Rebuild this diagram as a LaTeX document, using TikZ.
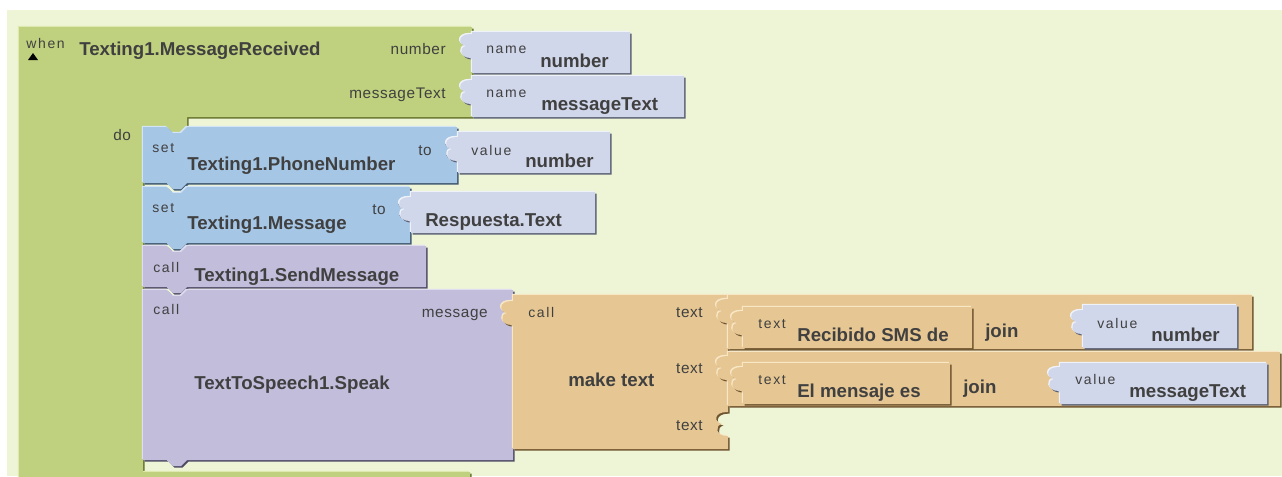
\documentclass[tikz,border=0pt]{standalone}
\usepackage{fontspec}
\setmainfont{Liberation Sans}
\newfontfamily\tagfont[LetterSpace=12]{Liberation Sans}
\newfontfamily\sockfont[LetterSpace=4]{Liberation Sans}

\definecolor{page}{HTML}{FFFFFF}
\definecolor{canvas}{HTML}{EEF5D6}
\definecolor{txt}{HTML}{404040}
\definecolor{evt}{HTML}{BFD17E}  \definecolor{evtdk}{HTML}{66742F}  \definecolor{evtlt}{HTML}{DDE9AE}
\definecolor{setb}{HTML}{A6C6E6} \definecolor{setbdk}{HTML}{3F5670} \definecolor{setblt}{HTML}{D2E4F5}
\definecolor{lav}{HTML}{D1D7EA}  \definecolor{lavdk}{HTML}{5C6274}  \definecolor{lavlt}{HTML}{F0F2FA}
\definecolor{pur}{HTML}{C1BDDB}  \definecolor{purdk}{HTML}{4F4B66}  \definecolor{purlt}{HTML}{DFDDEF}
\definecolor{org}{HTML}{E6C793}  \definecolor{orgdk}{HTML}{6E5430}  \definecolor{orglt}{HTML}{F8E7C6}

% socket / plug profile, traced downwards from (X,Y) or upwards to (X,Y)
\newcommand{\plugdown}[2]{-- ({#1-1},#2) .. controls ({#1-15},{#2}) and ({#1-14},{#2+11}) .. ({#1-6},{#2+12}) .. controls ({#1-13},{#2+13}) and ({#1-13},{#2+24}) .. ({#1-1},{#2+24}) -- (#1,{#2+24})}
\newcommand{\plugup}[2]{-- ({#1-1},{#2+24}) .. controls ({#1-13},{#2+24}) and ({#1-13},{#2+13}) .. ({#1-6},{#2+12}) .. controls ({#1-14},{#2+11}) and ({#1-15},{#2}) .. ({#1-1},#2) -- (#1,#2)}
% statement notch on a top edge (left to right) and tab on a bottom edge (right to left)
\newcommand{\notchtop}[1]{-- (167,#1) -- (173,{#1+6}) -- (181,{#1+6}) -- (187,#1)}
\newcommand{\tabbot}[1]{-- (187,#1) -- (181,{#1+6}) -- (173,{#1+6}) -- (167,#1)}
% bevelled block: shadow, highlight, face
\newcommand{\blk}[2]{%
  \fill[#1dk,shift={(1.6,1.6)}] #2;
  \fill[#1lt,shift={(-1.2,-1.2)}] #2;
  \fill[#1] #2;}

% block outlines
\newcommand{\pEvent}{(19,27) -- (472,27) -- (472,34) \plugdown{472}{34} -- (472,80) \plugdown{472}{80} -- (472,117) -- (187,117) -- (187,127) \tabbot{127} -- (143,127) -- (143,472) -- (470,472) -- (470,495) -- (19,495) -- cycle}
\newcommand{\pSetA}{(143,127) \notchtop{127} -- (457,127) -- (457,137) \plugdown{457}{137} -- (457,183) \tabbot{183} -- (143,183) -- cycle}
\newcommand{\pSetB}{(143,187) \notchtop{187} -- (410,187) -- (410,197) \plugdown{410}{197} -- (410,243) \tabbot{243} -- (143,243) -- cycle}
\newcommand{\pCallA}{(143,246) \notchtop{246} -- (426,246) -- (426,287) \tabbot{287} -- (143,287) -- cycle}
\newcommand{\pCallB}{(143,290) \notchtop{290} -- (513,290) -- (513,301) \plugdown{513}{301} -- (513,460) \tabbot{460} -- (143,460) -- cycle}
\newcommand{\pNameA}{(472,32) -- (630,32) -- (630,73) -- (472,73) -- (472,60) \plugup{472}{34} -- cycle}
\newcommand{\pNameB}{(472,76) -- (684,76) -- (684,117) -- (472,117) -- (472,106) \plugup{472}{80} -- cycle}
\newcommand{\pValA}{(458,132) -- (610,132) -- (610,173) -- (458,173) -- (458,163) \plugup{458}{137} -- cycle}
\newcommand{\pResp}{(411,192) -- (595,192) -- (595,233) -- (411,233) -- (411,223) \plugup{411}{197} -- cycle}
\newcommand{\pMake}{(513,295) -- (728,295) -- (728,299) \plugdown{728}{299} -- (728,356) \plugdown{728}{356} -- (728,412) \plugdown{728}{412} -- (728,449) -- (513,449) -- (513,327) \plugup{513}{301} -- cycle}
\newcommand{\pJoinA}{(728,295) -- (1252,295) -- (1252,349) -- (728,349) -- (728,325) \plugup{728}{299} -- cycle}
\newcommand{\pTxtA}{(743,307) -- (972,307) -- (972,348) -- (743,348) -- (743,337) \plugup{743}{311} -- cycle}
\newcommand{\pValB}{(1083,305) -- (1237,305) -- (1237,348) -- (1083,348) -- (1083,336) \plugup{1083}{310} -- cycle}
\newcommand{\pJoinB}{(728,352) -- (1280,352) -- (1280,406) -- (728,406) -- (728,382) \plugup{728}{356} -- cycle}
\newcommand{\pTxtB}{(743,363) -- (950,363) -- (950,404) -- (743,404) -- (743,393) \plugup{743}{367} -- cycle}
\newcommand{\pValC}{(1060,363) -- (1267,363) -- (1267,404) -- (1060,404) -- (1060,393) \plugup{1060}{367} -- cycle}

\begin{document}
\begin{tikzpicture}[x=0.75pt,y=-0.75pt,
  tag/.style={font=\tagfont\fontsize{10.5}{12}\selectfont, text=txt, inner sep=0pt},
  sock/.style={font=\sockfont\fontsize{11.5}{13}\selectfont, text=txt, inner sep=0pt},
  ttl/.style={font=\fontsize{14}{16}\selectfont\bfseries, text=txt, inner sep=0pt}]
\useasboundingbox (0,0) rectangle (1282,476);
\clip (0,0) rectangle (1282,476);
\fill[page] (0,0) rectangle (1282,476);
\fill[canvas] (7,10) rectangle (1282,476);

% event handler and its statement stack
\blk{evt}{\pEvent}
\blk{setb}{\pSetA}
\blk{setb}{\pSetB}
\blk{pur}{\pCallA}
\blk{pur}{\pCallB}
% values
\blk{lav}{\pNameA}
\blk{lav}{\pNameB}
\blk{lav}{\pValA}
\blk{lav}{\pResp}
\blk{org}{\pMake}
\blk{org}{\pJoinA}
\blk{org}{\pTxtA}
\blk{lav}{\pValB}
\blk{org}{\pJoinB}
\blk{org}{\pTxtB}
\blk{lav}{\pValC}

% collapse marker
\fill[black] (28,60) -- (33,53) -- (38,60) -- cycle;

% event header
\node[tag,anchor=base west] (when) at (26,48) {when};
\node[ttl,anchor=base west] (evname) at (79,55) {Texting1.MessageReceived};
\node[sock,anchor=base east] (argnum) at (446,54) {number};
\node[sock,anchor=base east] (argmsg) at (446,98) {messageText};
\node[tag,anchor=base west] (nameA) at (486,53) {name};
\node[ttl,anchor=base west] (nameAv) at (540,67) {number};
\node[tag,anchor=base west] (nameB) at (486,97) {name};
\node[ttl,anchor=base west] (nameBv) at (541,110) {messageText};
\node[sock,anchor=base west] (dolbl) at (113,140) {do};

% set Texting1.PhoneNumber
\node[tag,anchor=base west] (setA) at (152,152) {set};
\node[ttl,anchor=base west] (setAn) at (187,170) {Texting1.PhoneNumber};
\node[sock,anchor=base west] (toA) at (418,155) {to};
\node[tag,anchor=base west] (valA) at (471,155) {value};
\node[ttl,anchor=base west] (valAv) at (525,167) {number};

% set Texting1.Message
\node[tag,anchor=base west] (setB) at (152,212) {set};
\node[ttl,anchor=base west] (setBn) at (187,229) {Texting1.Message};
\node[sock,anchor=base west] (toB) at (372,214) {to};
\node[ttl,anchor=base west] (resp) at (425,226) {Respuesta.Text};

% call Texting1.SendMessage
\node[tag,anchor=base west] (callA) at (153,272) {call};
\node[ttl,anchor=base west] (callAn) at (194,281) {Texting1.SendMessage};

% call TextToSpeech1.Speak
\node[tag,anchor=base west] (callB) at (153,314) {call};
\node[sock,anchor=base east] (msgarg) at (488,317) {message};
\node[ttl,anchor=base west] (callBn) at (194,389) {TextToSpeech1.Speak};

% make text
\node[tag,anchor=base west] (callM) at (528,317) {call};
\node[ttl,anchor=base west] (make) at (568,386) {make text};
\node[sock,anchor=base east] (txtA) at (703,317) {text};
\node[sock,anchor=base east] (txtB) at (703,373) {text};
\node[sock,anchor=base east] (txtC) at (703,430) {text};

% joins
\node[tag,anchor=base west] (tA) at (758,328) {text};
\node[ttl,anchor=base west] (tAv) at (797,341) {Recibido SMS de};
\node[ttl,anchor=base west] (joinA) at (985,337) {join};
\node[tag,anchor=base west] (vB) at (1097,328) {value};
\node[ttl,anchor=base west] (vBv) at (1151,341) {number};

\node[tag,anchor=base west] (tB) at (758,384) {text};
\node[ttl,anchor=base west] (tBv) at (797,397) {El mensaje es};
\node[ttl,anchor=base west] (joinB) at (963,393) {join};
\node[tag,anchor=base west] (vC) at (1075,384) {value};
\node[ttl,anchor=base west] (vCv) at (1129,397) {messageText};
\end{tikzpicture}
\end{document}
